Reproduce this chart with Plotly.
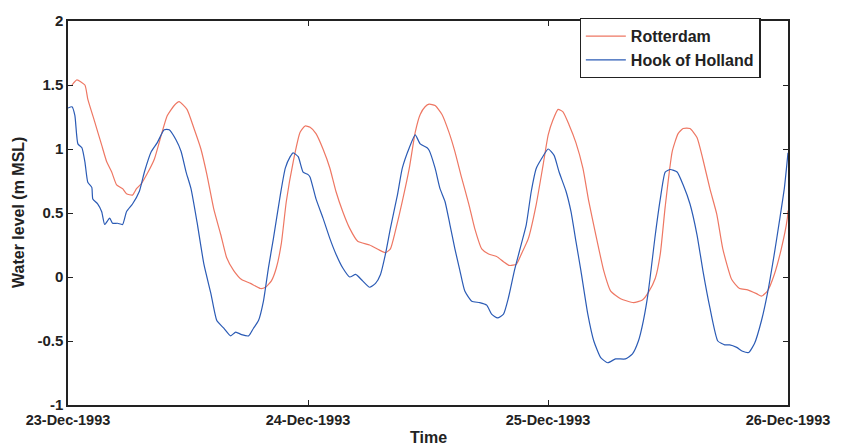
import plotly.graph_objects as go
import pandas as pd

# hours since 23-Dec-1993 00:00 and water level (m MSL)
rotterdam_hours = [0.40, 0.89, 1.69, 1.98, 2.68, 3.37, 3.87, 4.37, 4.86, 5.46, 5.85, 6.45, 6.85, 7.34, 7.94,
                   8.63, 9.33, 9.92, 10.62, 11.11, 11.90, 12.60, 13.29, 13.89, 14.58, 15.28, 15.87, 16.57,
                   17.36, 18.25, 19.25, 19.74, 20.34, 20.83, 21.33, 21.83, 22.52, 23.21, 23.71, 24.21,
                   24.80, 25.50, 26.19, 26.79, 27.48, 28.17, 28.97, 30.16, 31.15, 31.75, 32.24, 32.74,
                   33.43, 34.13, 34.72, 35.22, 35.71, 36.11, 36.71, 37.40, 38.10, 38.69, 39.38, 40.08,
                   40.67, 41.37, 42.06, 42.86, 43.55, 44.15, 44.84, 45.34, 46.03, 46.83, 47.52, 48.02,
                   48.51, 49.01, 49.50, 50.10, 50.79, 51.49, 52.08, 52.78, 53.57, 54.27, 55.26, 56.55,
                   57.44, 58.04, 58.73, 59.23, 59.72, 60.42, 61.01, 61.51, 62.20, 62.90, 63.49, 64.19,
                   64.88, 65.48, 66.37, 67.16, 67.96, 68.85, 69.35, 69.94, 70.63, 71.33, 71.92, 72.0]
rotterdam_level = [1.50, 1.54, 1.50, 1.39, 1.21, 1.03, 0.90, 0.82, 0.72, 0.69, 0.65, 0.64, 0.69, 0.73, 0.81,
                   0.92, 1.11, 1.26, 1.34, 1.37, 1.31, 1.16, 1.00, 0.80, 0.53, 0.33, 0.15, 0.05,
                   -0.02, -0.05, -0.09, -0.08, -0.03, 0.07, 0.26, 0.59, 0.90, 1.13, 1.18, 1.17,
                   1.12, 1.00, 0.85, 0.67, 0.51, 0.38, 0.28, 0.25, 0.21, 0.19, 0.22, 0.36,
                   0.59, 0.85, 1.13, 1.27, 1.33, 1.35, 1.34, 1.27, 1.13, 0.98, 0.77, 0.57,
                   0.38, 0.22, 0.18, 0.16, 0.12, 0.09, 0.10, 0.18, 0.30, 0.57, 0.88, 1.11,
                   1.23, 1.31, 1.29, 1.19, 1.05, 0.85, 0.59, 0.33, 0.05, -0.11, -0.17, -0.20,
                   -0.18, -0.12, -0.01, 0.18, 0.55, 0.98, 1.12, 1.16, 1.16, 1.09, 0.92, 0.69,
                   0.49, 0.22, -0.02, -0.09, -0.10, -0.13, -0.15, -0.11, 0.02, 0.22, 0.45, 0.52]

hook_hours = [0.0, 0.40, 0.69, 0.99, 1.39, 1.69, 1.98, 2.38, 2.48, 2.98, 3.37, 3.67, 4.17, 4.46, 4.96,
              5.46, 5.85, 6.45, 7.14, 7.64, 8.33, 8.93, 9.62, 10.12, 10.81, 11.31, 11.81, 12.30, 12.90,
              13.59, 14.29, 14.88, 15.58, 16.27, 16.77, 17.36, 18.06, 18.55, 19.05, 19.54, 20.04,
              20.54, 21.23, 21.73, 22.22, 22.52, 23.02, 23.51, 24.01, 24.21, 24.80, 25.50, 26.19,
              26.79, 27.48, 28.17, 28.77, 29.46, 30.16, 30.75, 31.25, 31.75, 32.24, 32.94, 33.43,
              34.13, 34.72, 35.22, 35.91, 36.11, 36.71, 37.20, 37.70, 38.19, 38.69, 39.19, 39.68,
              40.38, 41.17, 41.87, 42.36, 42.96, 43.55, 44.05, 44.64, 45.34, 45.83, 46.33, 46.83,
              47.32, 48.02, 48.61, 49.11, 49.80, 50.30, 50.79, 51.29, 51.98, 52.58, 53.27, 53.97,
              54.76, 55.75, 56.45, 57.04, 57.54, 58.04, 58.73, 59.23, 59.72, 60.22, 60.91, 61.51,
              62.20, 62.90, 63.49, 64.19, 64.98, 65.67, 66.17, 66.87, 67.46, 68.06, 68.65, 69.35,
              69.94, 70.63, 71.13, 71.63, 72.0]
hook_level = [1.32, 1.33, 1.26, 1.04, 1.01, 0.90, 0.74, 0.70, 0.61, 0.57, 0.51, 0.41, 0.46, 0.42, 0.42,
              0.41, 0.51, 0.57, 0.67, 0.82, 0.98, 1.05, 1.15, 1.15, 1.07, 0.98, 0.82, 0.69, 0.43,
              0.10, -0.13, -0.34, -0.40, -0.46, -0.43, -0.45, -0.46, -0.40, -0.34, -0.19, 0.07,
              0.30, 0.64, 0.85, 0.94, 0.97, 0.94, 0.82, 0.80, 0.78, 0.61, 0.46, 0.30,
              0.18, 0.07, 0.00, 0.02, -0.03, -0.08, -0.05, 0.02, 0.18, 0.38, 0.64, 0.85,
              1.01, 1.11, 1.04, 1.01, 0.99, 0.85, 0.69, 0.59, 0.41, 0.22, 0.05, -0.11,
              -0.19, -0.20, -0.22, -0.29, -0.32, -0.29, -0.16, 0.05, 0.26, 0.41, 0.67, 0.85,
              0.92, 1.00, 0.95, 0.82, 0.67, 0.51, 0.28, 0.05, -0.29, -0.50, -0.63, -0.67,
              -0.64, -0.64, -0.60, -0.50, -0.34, -0.11, 0.33, 0.61, 0.82, 0.84, 0.82, 0.72,
              0.57, 0.33, 0.05, -0.24, -0.50, -0.53, -0.53, -0.55, -0.58, -0.59, -0.52, -0.34,
              -0.13, 0.18, 0.43, 0.69, 0.97]

x_tick_dates = ["1993-12-23", "1993-12-24", "1993-12-25", "1993-12-26"]
x_tick_labels = ["23-Dec-1993", "24-Dec-1993", "25-Dec-1993", "26-Dec-1993"]
y_tick_vals = [-1, -0.5, 0, 0.5, 1, 1.5, 2]
y_tick_labels = ["-1", "-0.5", "0", "0.5", "1", "1.5", "2"]

start = pd.Timestamp("1993-12-23")
rot_t = start + pd.to_timedelta(rotterdam_hours, unit="h")
hook_t = start + pd.to_timedelta(hook_hours, unit="h")

FONT = "Liberation Sans, Arial, Helvetica, sans-serif"
INK = "#222222"

fig = go.Figure()
fig.add_trace(go.Scatter(x=rot_t, y=rotterdam_level, mode="lines", name="Rotterdam",
                         line=dict(color="#EE7763", width=1.2, shape="spline", smoothing=0.5)))
fig.add_trace(go.Scatter(x=hook_t, y=hook_level, mode="lines", name="Hook of Holland",
                         line=dict(color="#2B5BB5", width=1.2, shape="spline", smoothing=0.5)))

fig.update_layout(
    width=842, height=446,
    margin=dict(l=68, r=47, t=18, b=41),
    paper_bgcolor="white", plot_bgcolor="white",
    font=dict(family=FONT, color=INK),
    showlegend=True,
    legend=dict(x=0.962, y=1.008, xanchor="right", yanchor="top",
                bordercolor=INK, borderwidth=1.2, bgcolor="white",
                font=dict(family=FONT, size=16, weight="bold", color=INK),
                tracegroupgap=0, itemwidth=40),
    xaxis=dict(range=[x_tick_dates[0], x_tick_dates[-1]],
               tickvals=x_tick_dates, ticktext=x_tick_labels,
               ticks="inside", ticklen=5, tickcolor=INK,
               showline=True, linecolor=INK, linewidth=1.5, mirror="ticks",
               showgrid=False, zeroline=False, ticklabelstandoff=1,
               tickfont=dict(family=FONT, size=14.5, weight="bold", color=INK)),
    yaxis=dict(range=[-1, 2], tickvals=y_tick_vals, ticktext=y_tick_labels,
               ticks="inside", ticklen=5, tickcolor=INK,
               showline=True, linecolor=INK, linewidth=1.5, mirror="ticks",
               showgrid=False, zeroline=False,
               tickfont=dict(family=FONT, size=15, weight="bold", color=INK)),
    annotations=[
        dict(text="Time", xref="paper", yref="paper", x=0.5, y=0, yshift=-32,
             showarrow=False, xanchor="center", yanchor="middle",
             font=dict(family=FONT, size=16, weight="bold", color=INK)),
        dict(text="Water level (m MSL)", xref="paper", yref="paper", x=0, y=0.5, xshift=-50,
             showarrow=False, xanchor="center", yanchor="middle", textangle=-90,
             font=dict(family=FONT, size=16, weight="bold", color=INK)),
    ],
)

fig.write_html("out.html")
